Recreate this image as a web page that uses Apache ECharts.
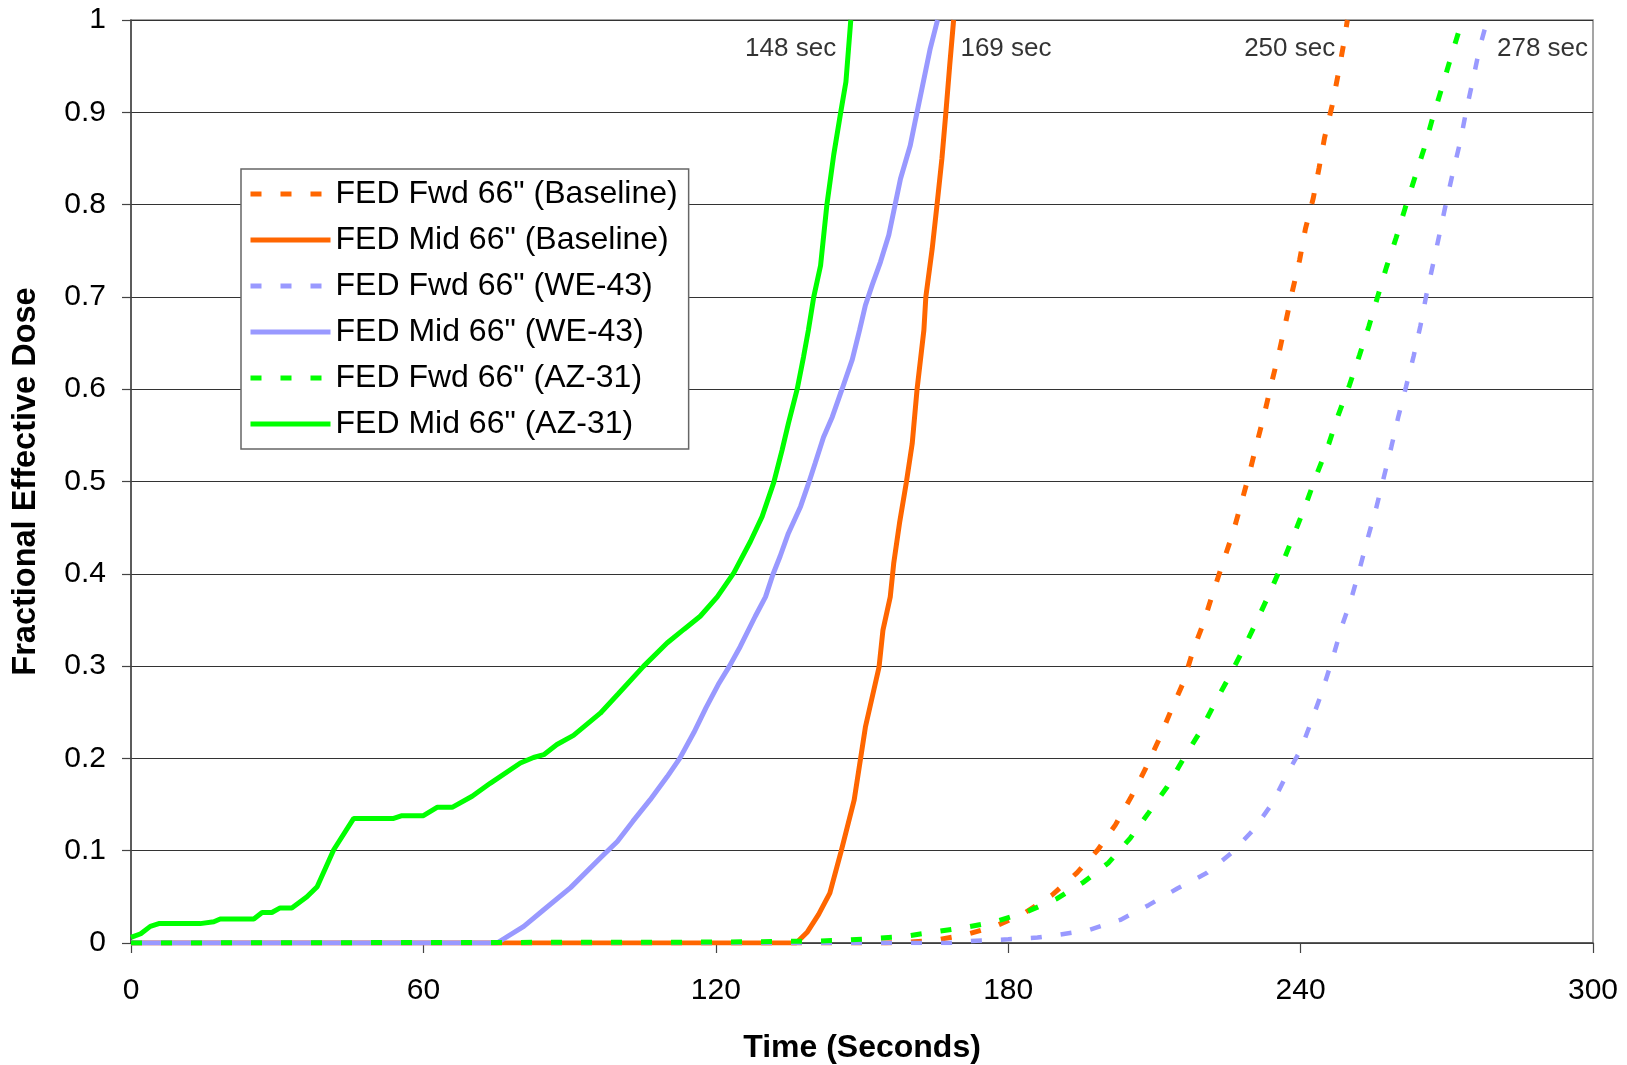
<!DOCTYPE html>
<html>
<head>
<meta charset="utf-8">
<script src="https://cdn.jsdelivr.net/npm/echarts@6/dist/echarts.min.js"></script>
<style>
html,body{margin:0;padding:0;background:#fff;}
#chart{width:1627px;height:1065px;}
</style>
</head>
<body>
<div id="chart"></div>
<script>
// ---- Data (time in seconds, Fractional Effective Dose) ----
const seriesNames = [
  'FED Fwd 66" (Baseline)',
  'FED Mid 66" (Baseline)',
  'FED Fwd 66" (WE-43)',
  'FED Mid 66" (WE-43)',
  'FED Fwd 66" (AZ-31)',
  'FED Mid 66" (AZ-31)'
];

const fwdBaseline = [[0,0],[155,0],[160,0.001],[164.9,0.003],[171.3,0.009],[177.3,0.018],[183.2,0.032],[189,0.052],[194.1,0.076],[198.4,0.101],[202,0.128],[205.3,0.159],[208.1,0.188],[210.9,0.22],[213.5,0.253],[216,0.283],[218,0.318],[220.1,0.347],[222,0.379],[224,0.411],[226.1,0.444],[227.8,0.476],[229.5,0.509],[231,0.541],[232.6,0.574],[234.1,0.608],[235.6,0.64],[237,0.674],[238.3,0.706],[239.8,0.74],[241,0.774],[242.6,0.807],[243.8,0.84],[244.9,0.872],[246.5,0.908],[247.7,0.941],[248.8,0.973],[249.6,1.0]];

const midBaseline = [[0,0],[136.5,0],[138.8,0.012],[141.1,0.031],[143.4,0.054],[145.7,0.099],[148.4,0.155],[150.7,0.234],[153.5,0.299],[154.3,0.339],[155.8,0.375],[156.5,0.411],[157.7,0.455],[159.1,0.499],[160.3,0.541],[161.3,0.6],[162.7,0.664],[163.1,0.7],[164.4,0.752],[165.4,0.8],[166.4,0.85],[167.2,0.899],[168,0.951],[168.8,1.0]];

const fwdWE43 = [[0,0],[168,0],[172,0.002],[180,0.004],[186,0.006],[190.4,0.009],[196.5,0.014],[203,0.025],[208.8,0.041],[214.7,0.059],[220.8,0.076],[225.9,0.098],[230.4,0.123],[234.4,0.153],[237.1,0.182],[240,0.209],[242.2,0.24],[244.4,0.272],[246.5,0.307],[248.4,0.342],[250.4,0.373],[252.1,0.405],[253.8,0.439],[255.5,0.471],[257,0.503],[258.6,0.537],[260,0.569],[261.6,0.602],[263.2,0.636],[264.6,0.669],[265.8,0.702],[267.2,0.736],[268.5,0.768],[269.9,0.803],[271.3,0.836],[272.8,0.869],[274,0.902],[275.4,0.936],[276.7,0.969],[278.3,1.0]];

const midWE43 = [[0,0],[75.1,0],[80.6,0.018],[84.7,0.036],[90.2,0.06],[96.3,0.092],[99.8,0.11],[103,0.132],[106.5,0.155],[110,0.18],[112.6,0.2],[115.5,0.228],[118,0.255],[120.5,0.28],[122.8,0.3],[125,0.321],[128.1,0.354],[130.2,0.375],[131.7,0.399],[133.2,0.419],[134.9,0.444],[137.4,0.473],[139.1,0.499],[140.4,0.52],[142.1,0.548],[143.9,0.57],[145.9,0.6],[148,0.632],[149.5,0.664],[150.7,0.691],[152.1,0.713],[153.8,0.738],[155.5,0.767],[156.8,0.8],[157.9,0.828],[159.9,0.864],[160.9,0.89],[162,0.918],[164,0.969],[165.5,1.0]];

const fwdAZ31 = [[0,0],[120,0.001],[140,0.002],[146.2,0.003],[152.6,0.005],[158.5,0.007],[164.9,0.012],[171.3,0.017],[177.3,0.023],[183.9,0.034],[190,0.048],[195.5,0.066],[200.6,0.087],[205.1,0.114],[208.8,0.141],[212.6,0.169],[216,0.2],[219.4,0.229],[222.6,0.262],[225.4,0.289],[228.5,0.321],[231.2,0.351],[233.9,0.382],[236.4,0.413],[238.9,0.446],[241.2,0.477],[243.4,0.509],[245.8,0.541],[247.8,0.573],[250,0.604],[252.1,0.637],[254,0.668],[255.8,0.7],[257.6,0.732],[259.6,0.764],[261.5,0.797],[263.3,0.827],[265.3,0.86],[267,0.892],[268.9,0.925],[270.7,0.957],[272.6,0.99],[273.2,1.0]];

const midAZ31 = [[0,0.006],[2,0.01],[3.96,0.018],[5.7,0.021],[14.2,0.021],[17,0.023],[18.3,0.026],[25.2,0.026],[26.9,0.033],[28.9,0.033],[30.6,0.038],[33,0.038],[36.1,0.05],[38.2,0.061],[41.6,0.101],[45.7,0.135],[53.9,0.135],[55.6,0.138],[60,0.138],[62.8,0.147],[65.9,0.147],[70,0.159],[73.7,0.173],[79.9,0.195],[82.6,0.201],[84.7,0.204],[87.4,0.215],[90.8,0.225],[96.3,0.249],[100,0.27],[105.2,0.3],[110,0.325],[113.5,0.34],[116.8,0.354],[120.3,0.375],[123.7,0.401],[127.1,0.435],[129.5,0.462],[131.9,0.499],[133.6,0.534],[134.9,0.563],[136.7,0.6],[138,0.635],[139,0.664],[140.1,0.7],[141.5,0.734],[142.8,0.8],[144.2,0.854],[145.6,0.899],[146.7,0.933],[147.7,1.0]];

// Annotations: [time, FED, text]
const annotLeftOf = [[144.7, 0.969, '148 sec'], [247.1, 0.969, '250 sec']];
const annotRightOf = [[170.2, 0.969, '169 sec'], [280.3, 0.969, '278 sec']];

const xTicks = {min: 0, max: 300, interval: 60};
const yTicks = {min: 0, max: 1, interval: 0.1};

// ---- Styling ----
const ORANGE = '#FF6600', BLUE = '#9999FF', GREEN = '#00FF00';
const DASH = [11, 19];
const FONT = '"Liberation Sans", Arial, sans-serif';

function lineSeries(name, data, color, dashed, width) {
  return {
    name: name, type: 'line', data: data, showSymbol: false, symbol: 'none',
    lineStyle: {color: color, width: width, type: dashed ? DASH : 'solid', cap: 'butt'},
    itemStyle: {color: color},
    emphasis: {disabled: true}, animation: false
  };
}

function annotSeries(data, pos) {
  return {
    type: 'scatter', data: data, symbolSize: 0, silent: true, animation: false,
    label: {
      show: true, position: pos, distance: 0,
      formatter: p => p.value[2],
      color: '#000', fontFamily: FONT, fontSize: 26
    }
  };
}

const chart = echarts.init(document.getElementById('chart'), null, {renderer: 'canvas'});
chart.setOption({
  backgroundColor: '#fff',
  animation: false,
  grid: {left: 131, right: 34, top: 20, bottom: 122, show: true, borderColor: '#888', borderWidth: 1.5,
    backgroundColor: 'transparent', containLabel: false, outerBoundsMode: 'none'},
  legend: {
    data: seriesNames, orient: 'vertical', left: 241, top: 169,
    itemWidth: 80, itemHeight: 16, itemGap: 12,
    padding: [8, 11, 8, 7],
    backgroundColor: '#fff', borderColor: '#666', borderWidth: 1.5,
    itemStyle: {color: 'transparent', borderColor: 'transparent', borderWidth: 0, opacity: 0},
    lineStyle: {width: 5},
    textStyle: {fontFamily: FONT, fontSize: 32, color: '#000', lineHeight: 34},
    selectedMode: false
  },
  xAxis: {
    type: 'value', min: xTicks.min, max: xTicks.max, interval: xTicks.interval,
    name: 'Time (Seconds)', nameLocation: 'middle', nameGap: 89,
    nameTextStyle: {fontFamily: FONT, fontSize: 32, fontWeight: 'bold', color: '#000'},
    axisLine: {show: true, lineStyle: {color: '#444', width: 1.5}},
    axisTick: {show: true, length: 10, lineStyle: {color: '#444', width: 1.2}},
    axisLabel: {fontFamily: FONT, fontSize: 30, color: '#000', margin: 33},
    splitLine: {show: false}
  },
  yAxis: {
    type: 'value', min: yTicks.min, max: yTicks.max, interval: yTicks.interval,
    name: 'Fractional Effective Dose', nameLocation: 'middle', nameGap: 88,
    nameTextStyle: {fontFamily: FONT, fontSize: 32.5, fontWeight: 'bold', color: '#000'},
    axisLine: {show: true, lineStyle: {color: '#444', width: 1.5}},
    axisTick: {show: true, length: 9, lineStyle: {color: '#444', width: 1.2}},
    axisLabel: {fontFamily: FONT, fontSize: 30, color: '#000', margin: 25,
      formatter: v => String(+v.toFixed(1))},
    splitLine: {show: true, lineStyle: {color: '#333', width: 1.2}}
  },
  series: [
    lineSeries(seriesNames[0], fwdBaseline, ORANGE, true, 5),
    lineSeries(seriesNames[1], midBaseline, ORANGE, false, 5),
    lineSeries(seriesNames[2], fwdWE43, BLUE, true, 4.5),
    lineSeries(seriesNames[3], midWE43, BLUE, false, 5),
    lineSeries(seriesNames[4], fwdAZ31, GREEN, true, 5),
    lineSeries(seriesNames[5], midAZ31, GREEN, false, 5),
    annotSeries(annotLeftOf, 'left'),
    annotSeries(annotRightOf, 'right')
  ]
});
</script>
</body>
</html>
